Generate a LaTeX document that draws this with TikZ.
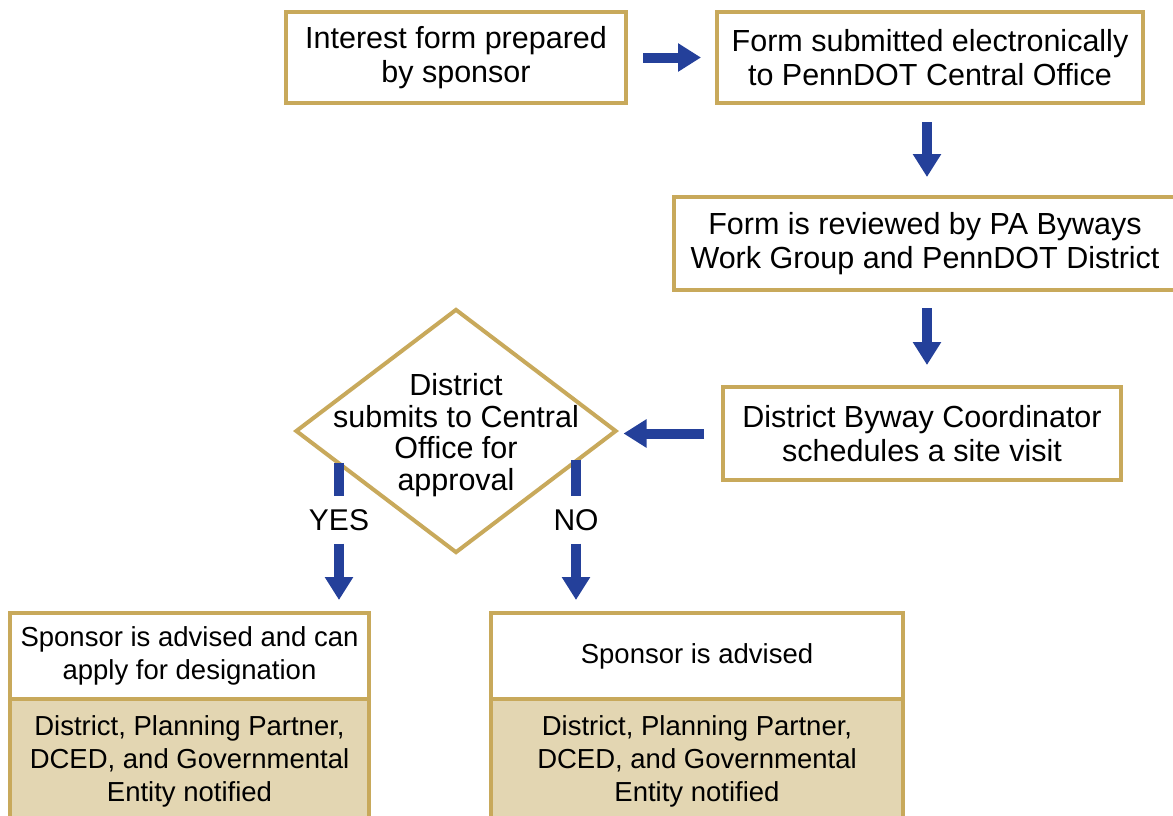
\documentclass[tikz,border=0pt]{standalone}
\usepackage{fontspec}
\setmainfont{Liberation Sans}
\usetikzlibrary{arrows.meta,shapes.geometric,calc}
\definecolor{gold}{HTML}{C8A95B}
\definecolor{tanfill}{HTML}{E3D6B2}
\definecolor{navy}{HTML}{24409A}
\begin{document}
\begin{tikzpicture}[x=1pt,y=-1pt,
  box/.style={draw=gold,line width=4pt,fill=white,align=center,inner sep=0pt,
    font=\fontsize{30.5}{34}\selectfont,text=black},
  subbox/.style={box,font=\fontsize{27.5}{33}\selectfont},
  flow/.style={draw=navy,line width=10pt,-{Triangle[width=27pt,length=23pt]}},
  stem/.style={draw=navy,line width=10pt},
  lbl/.style={inner sep=0pt,minimum height=47pt,font=\fontsize{30}{34}\selectfont}]
\useasboundingbox (0,0) rectangle (1173,815);
\clip (0,0) rectangle (1173,815);

\node[box,minimum width=340,minimum height=91] (b1) at (456,57.5) {Interest form prepared\\by sponsor};
\node[box,minimum width=426,minimum height=91] (b2) at (930,57.5) {Form submitted electronically\\to PennDOT Central Office};
\node[box,minimum width=502,minimum height=93] (b3) at (925,243.5) {Form is reviewed by PA Byways\\Work Group and PennDOT District};
\node[box,minimum width=398,minimum height=93] (b4) at (922,433.5) {District Byway Coordinator\\schedules a site visit};

\node[draw=gold,line width=4pt,fill=white,diamond,inner sep=0pt,minimum width=321,minimum height=244] (d) at (456,431) {};
\node[align=center,inner sep=0pt,font=\fontsize{30.5}{31.5}\selectfont] (dt) at (456,435) {District\\submits to Central\\Office for\\approval};

% bottom boxes
\node[subbox,fill=tanfill,minimum width=359,minimum height=124] (bll) at (189.5,761) {District, Planning Partner,\\DCED, and Governmental\\Entity notified};
\node[subbox,minimum width=359,minimum height=86] (bl) at (189.5,656) {Sponsor is advised and can\\apply for designation};
\node[subbox,fill=tanfill,minimum width=412,minimum height=124] (brl) at (697,761) {District, Planning Partner,\\DCED, and Governmental\\Entity notified};
\node[subbox,minimum width=412,minimum height=86] (br) at (697,656) {Sponsor is advised};

% labels
\node[lbl] (yes) at (339,520) {YES};
\node[lbl] (no) at (576,520) {NO};

% connectors
\draw[flow,shorten <=15pt,shorten >=14pt] (b1.east) -- (b2.west);
\draw[flow,shorten <=17pt,shorten >=18pt] ([xshift=2pt]b3.north |- b2.south) -- ([xshift=2pt]b3.north);
\draw[flow,shorten <=16pt,shorten >=20pt] ([xshift=5pt]b4.north |- b3.south) -- ([xshift=5pt]b4.north);
\draw[flow,shorten <=17pt,shorten >=5pt] (b4.west) -- (d.east |- b4.west);

\coordinate (ys) at ($(d.west)!0.282!(d.south)$);
\coordinate (ns) at ($(d.south)!0.74!(d.east)$);
\draw[stem] ([yshift=3pt]yes.north |- ys) -- (yes.north);
\draw[stem] ([yshift=3pt]no.north |- ns) -- (no.north);
\draw[flow,shorten >=11pt] (yes.south) -- (yes.south |- bl.north);
\draw[flow,shorten >=11pt] (no.south) -- (no.south |- br.north);
\end{tikzpicture}
\end{document}
